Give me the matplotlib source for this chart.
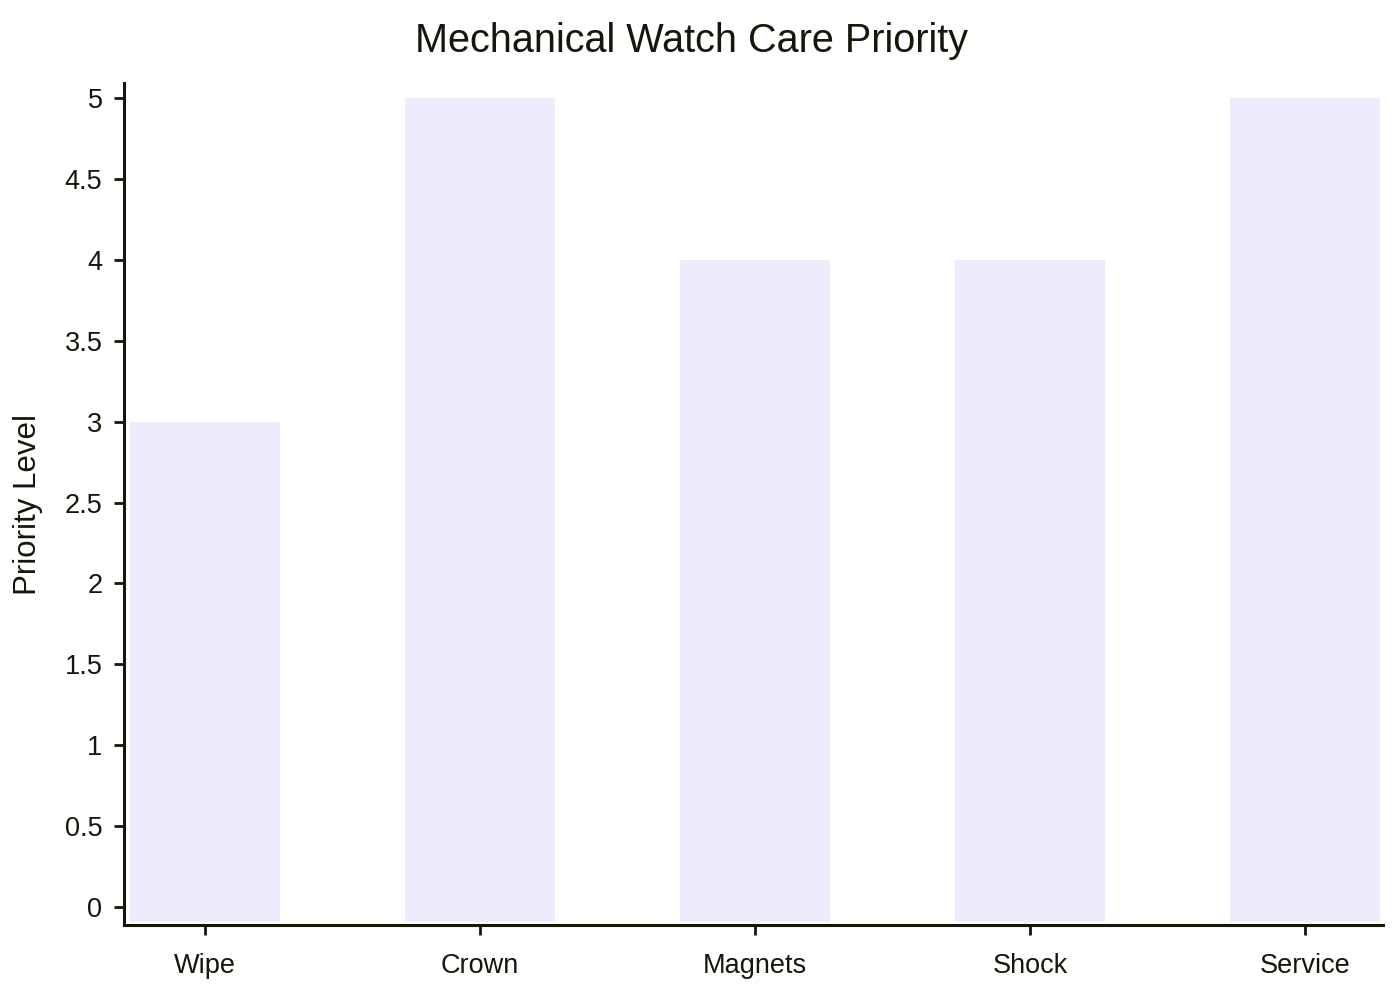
import matplotlib
matplotlib.use("Agg")
import matplotlib.pyplot as plt

categories = ["Wipe", "Crown", "Magnets", "Shock", "Service"]
values = [3, 5, 4, 4, 5]
yticks = [0, 0.5, 1, 1.5, 2, 2.5, 3, 3.5, 4, 4.5, 5]
ytick_labels = ["0", "0.5", "1", "1.5", "2", "2.5", "3", "3.5", "4", "4.5", "5"]

plt.rcParams['font.family'] = ['Liberation Sans', 'DejaVu Sans']
ink = '#16160a'

fig = plt.figure(figsize=(14, 10), dpi=100)
ax = fig.add_axes([124/1400, 1 - 925/1000, (1383 - 124)/1400, (925 - 83)/1000])

ylo, yhi = -0.111, 5.093
bar_bottom = -0.093
x = list(range(len(categories)))
ax.bar(x, [v - bar_bottom for v in values], bottom=bar_bottom, width=0.545,
       color='#ececfc', edgecolor='none')

ax.set_xlim(-0.2945, 4.284)
ax.set_ylim(ylo, yhi)
ax.set_xticks(x)
ax.set_xticklabels(categories)
ax.set_yticks(yticks)
ax.set_yticklabels(ytick_labels)

for s in ['top', 'right']:
    ax.spines[s].set_visible(False)
for s in ['left', 'bottom']:
    ax.spines[s].set_color(ink)
    ax.spines[s].set_linewidth(2.2)

ax.tick_params(axis='both', colors=ink, length=7, width=2, labelsize=19.5)
ax.tick_params(axis='y', pad=8.5)
ax.tick_params(axis='x', pad=13)
for lab in ax.get_xticklabels() + ax.get_yticklabels():
    lab.set_color(ink)

ax.set_ylabel("Priority Level", fontsize=22.5, color=ink)
ax.yaxis.set_label_coords(-0.0643, 0.5)
fig.text(692/1400, 1 - 41/1000, "Mechanical Watch Care Priority", fontsize=28.5,
         color=ink, ha='center', va='center')

fig.savefig("out.png", dpi=100, facecolor='white')
